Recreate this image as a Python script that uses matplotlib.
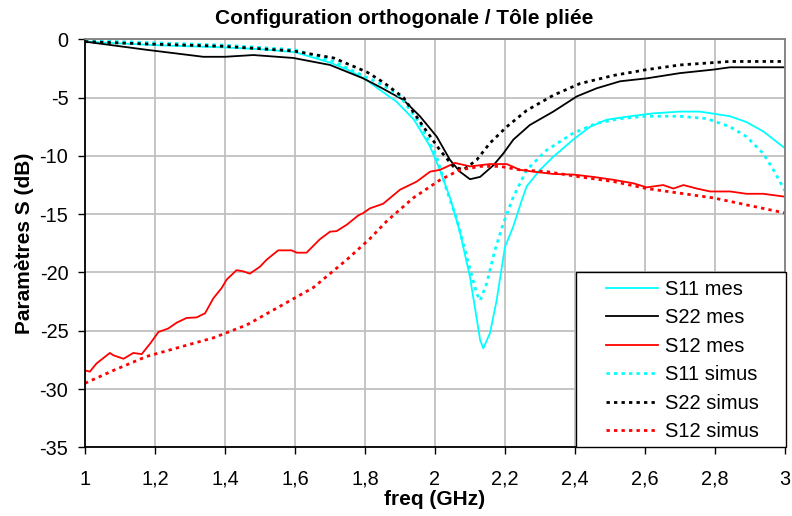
import numpy as np
import matplotlib
matplotlib.use("Agg")
import matplotlib.pyplot as plt
from matplotlib.patches import Rectangle

plt.rcParams['font.family'] = ['Liberation Sans', 'DejaVu Sans']
plt.rcParams['axes.unicode_minus'] = False

# ---- data (freq in GHz, S in dB) ----
f_s11_mes = [1.0, 1.1, 1.2, 1.3, 1.4, 1.5, 1.6, 1.7, 1.75, 1.8, 1.843, 1.89, 1.94, 1.986,
             2.014, 2.043, 2.071, 2.1, 2.129, 2.138, 2.157, 2.176, 2.2, 2.223, 2.248, 2.262,
             2.3, 2.337, 2.395, 2.443, 2.49, 2.557, 2.624, 2.7, 2.757, 2.843, 2.89, 2.938, 3.0]
s11_mes = [-0.2, -0.35, -0.5, -0.6, -0.7, -0.85, -1.1, -2.0, -2.6, -3.4, -4.35, -5.35, -6.9, -9.2,
           -11.2, -13.6, -16.5, -20.4, -25.8, -26.5, -25.2, -22.4, -17.8, -16.1, -13.8, -12.6,
           -11.2, -10.1, -8.6, -7.5, -6.9, -6.6, -6.35, -6.2, -6.2, -6.6, -7.1, -7.9, -9.35]

f_s22_mes = [1.0, 1.05, 1.176, 1.338, 1.4, 1.481, 1.595, 1.7, 1.795, 1.843, 1.91, 1.957, 2.005,
             2.043, 2.071, 2.1, 2.129, 2.167, 2.195, 2.224, 2.271, 2.338, 2.405, 2.462, 2.529,
             2.605, 2.7, 2.795, 2.843, 3.0]
s22_mes = [-0.2, -0.4, -0.9, -1.5, -1.5, -1.35, -1.6, -2.2, -3.35, -4.1, -5.2, -6.6, -8.35,
           -10.35, -11.35, -12.0, -11.8, -10.8, -9.8, -8.6, -7.35, -6.2, -4.9, -4.2, -3.6,
           -3.35, -2.9, -2.6, -2.4, -2.4]

f_s12_mes = [1.0, 1.014, 1.033, 1.071, 1.081, 1.11, 1.138, 1.162, 1.186, 1.21, 1.238, 1.262,
             1.29, 1.319, 1.343, 1.367, 1.39, 1.405, 1.433, 1.452, 1.471, 1.5, 1.519, 1.552,
             1.59, 1.605, 1.633, 1.671, 1.7, 1.719, 1.748, 1.781, 1.795, 1.814, 1.852, 1.9,
             1.948, 1.986, 2.014, 2.057, 2.1, 2.157, 2.205, 2.243, 2.281, 2.338, 2.395, 2.452,
             2.51, 2.567, 2.605, 2.652, 2.681, 2.71, 2.748, 2.786, 2.843, 2.89, 2.938, 3.0]
s12_mes = [-28.4, -28.5, -27.8, -26.9, -27.1, -27.4, -26.9, -27.0, -26.1, -25.1, -24.8, -24.3,
           -23.9, -23.85, -23.5, -22.2, -21.35, -20.6, -19.8, -19.9, -20.1, -19.5, -18.9, -18.1,
           -18.1, -18.3, -18.3, -17.15, -16.5, -16.45, -15.9, -15.1, -14.9, -14.5, -14.1, -12.9,
           -12.2, -11.35, -11.2, -10.6, -10.9, -10.7, -10.7, -11.2, -11.35, -11.55, -11.6, -11.8,
           -12.05, -12.35, -12.7, -12.5, -12.8, -12.5, -12.8, -13.05, -13.05, -13.25, -13.25, -13.5]

f_s11_sim = [1.0, 1.2, 1.4, 1.6, 1.71, 1.8, 1.85, 1.9, 1.957, 2.005, 2.033, 2.062, 2.09, 2.119,
             2.129, 2.148, 2.171, 2.195, 2.224, 2.262, 2.319, 2.395, 2.462, 2.529, 2.605, 2.7,
             2.776, 2.843, 2.89, 2.938, 2.967, 3.0]
s11_sim = [-0.1, -0.3, -0.5, -0.9, -1.9, -3.2, -3.9, -4.9, -7.2, -10.1, -12.9, -15.4, -18.6, -21.8,
           -22.4, -20.9, -18.1, -15.8, -13.5, -11.2, -9.5, -8.05, -7.2, -6.8, -6.6, -6.6,
           -6.8, -7.5, -8.35, -9.8, -11.2, -13.0]

f_s22_sim = [1.0, 1.176, 1.395, 1.595, 1.71, 1.805, 1.853, 1.91, 1.967, 2.014, 2.052, 2.081,
             2.119, 2.157, 2.205, 2.262, 2.338, 2.414, 2.51, 2.605, 2.7, 2.795, 2.843, 3.0]
s22_sim = [-0.2, -0.4, -0.6, -1.0, -1.6, -2.8, -3.7, -5.0, -7.5, -9.5, -10.9, -11.2,
           -10.35, -8.9, -7.5, -6.1, -4.8, -3.8, -3.1, -2.6, -2.2, -2.0, -1.9, -1.9]

f_s12_sim = [1.0, 1.081, 1.176, 1.271, 1.367, 1.462, 1.557, 1.652, 1.748, 1.814, 1.862, 1.938,
             2.014, 2.071, 2.129, 2.186, 2.243, 2.319, 2.414, 2.51, 2.605, 2.7, 2.795, 2.89, 3.0]
s12_sim = [-29.5, -28.4, -27.2, -26.4, -25.6, -24.5, -22.9, -21.3, -18.9, -17.1, -15.6, -13.6,
           -12.07, -11.2, -10.9, -10.9, -11.2, -11.35, -11.8, -12.2, -12.8, -13.2, -13.6, -14.2, -14.9]

xticks = [1.0, 1.2, 1.4, 1.6, 1.8, 2.0, 2.2, 2.4, 2.6, 2.8, 3.0]
xtick_labels = ['1', '1,2', '1,4', '1,6', '1,8', '2', '2,2', '2,4', '2,6', '2,8', '3']
yticks = [0, -5, -10, -15, -20, -25, -30, -35]

fig = plt.figure(figsize=(7.92, 5.16), dpi=100)
ax = fig.add_axes([85 / 792, 1 - 447.4 / 516, 700 / 792, 408.1 / 516])

dot = (0, (1.2, 1.5))
ax.plot(f_s11_mes, s11_mes, '-', color='#00ffff', lw=1.3, label='S11 mes')
ax.plot(f_s22_mes, s22_mes, '-', color='black', lw=1.3, label='S22 mes')
ax.plot(f_s12_mes, s12_mes, '-', color='#ff0000', lw=1.3, label='S12 mes')
ax.plot(f_s11_sim, s11_sim, linestyle=dot, color='#00ffff', lw=2, label='S11 simus')
ax.plot(f_s22_sim, s22_sim, linestyle=dot, color='black', lw=2, label='S22 simus')
ax.plot(f_s12_sim, s12_sim, linestyle=dot, color='#ff0000', lw=2, label='S12 simus')

ax.set_xlim(1, 3)
ax.set_ylim(-35, 0)
ax.set_xticks(xticks)
ax.set_xticklabels(xtick_labels)
ax.set_yticks(yticks)
ax.grid(color='#c0c0c0', lw=1.3)
ax.set_axisbelow(True)
ax.tick_params(labelsize=14.3, length=5, width=1, colors='black')
ax.tick_params(axis='x', pad=11)
ax.tick_params(axis='y', pad=7)
for s in ('top', 'right'):
    ax.spines[s].set_color('#808080')
    ax.spines[s].set_linewidth(1.3)
for s in ('left', 'bottom'):
    ax.spines[s].set_linewidth(1.3)

ax.set_xlabel('freq (GHz)', fontsize=15, fontweight='bold', labelpad=1)
ax.set_ylabel('Paramètres S (dB)', fontsize=15, fontweight='bold', labelpad=4)
fig.text(404.5 / 792, 1 - 18 / 516, 'Configuration orthogonale / Tôle pliée',
         ha='center', va='center', fontsize=15, fontweight='bold')

# legend frame as in the original (wide left margin)
frame = Rectangle((0.701, 0.0), 0.30, 0.43, transform=ax.transAxes, facecolor='white',
                  edgecolor='black', lw=1.0, zorder=5, clip_on=False)
ax.add_patch(frame)
leg = ax.legend(loc='upper left', bbox_to_anchor=(0.7365, 0.423), fontsize=14.5, frameon=False,
                handlelength=2.6, handletextpad=0.35, borderpad=0.25, labelspacing=0.47,
                borderaxespad=0)
leg.set_zorder(6)

fig.savefig('out.png', dpi=100)
